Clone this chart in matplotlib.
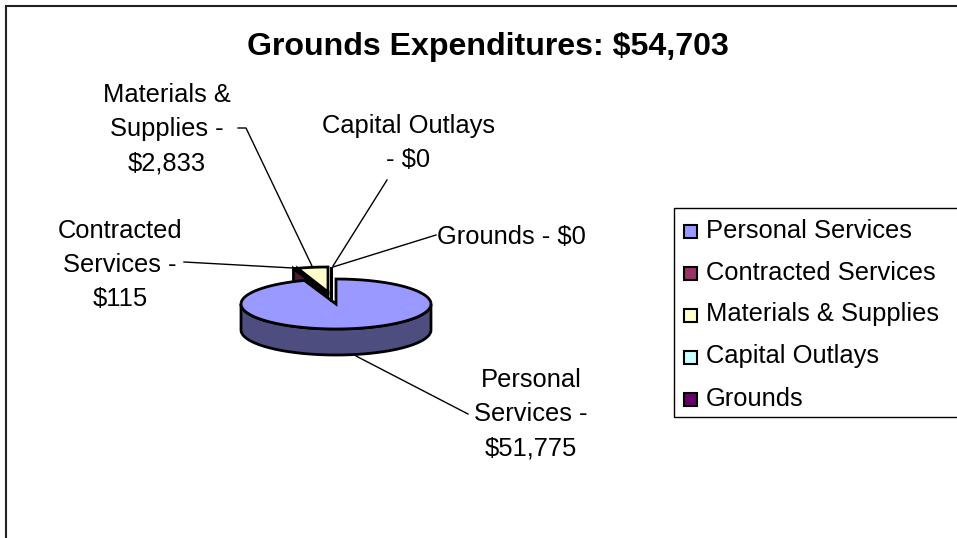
import numpy as np
import matplotlib
matplotlib.use("Agg")
import matplotlib.pyplot as plt
from matplotlib.patches import Polygon, Rectangle

plt.rcParams['font.family'] = ['Liberation Sans', 'DejaVu Sans']

title = "Grounds Expenditures: $54,703"
categories = ["Personal Services", "Contracted Services", "Materials & Supplies", "Capital Outlays", "Grounds"]
values = [51775, 115, 2833, 0, 0]
colors = ["#9999ff", "#993366", "#ffffcc", "#ccffff", "#660066"]
side_colors = ["#4d4d80", "#4d1a33", "#808066", "#668080", "#330033"]
labels = ["Personal\nServices -\n$51,775", "Contracted\nServices -\n$115", "Materials &\nSupplies -\n$2,833",
          "Capital Outlays\n- $0", "Grounds - $0"]

W, H = 957, 538
fig = plt.figure(figsize=(W / 100, H / 100), dpi=100)
ax = fig.add_axes([0, 0, 1, 1])
ax.set_xlim(0, W)
ax.set_ylim(H, 0)
ax.axis("off")

# chart frame
ax.add_patch(Rectangle((6, 5.5), W, H, fc="white", ec="#222222", lw=1.5))
ax.text(488, 47, title, fontsize=23.1, fontweight="bold", ha="center", va="center")

# fake 3d pie
cx, cy, rx, ry, depth = 336, 304, 95, 25, 26
offsets = [(0, 0), (-11, -12), (-8, -12), (-5, -12), (-5, -12)]
side_depth = [depth, 14, 3, 9, 9]


def rim(t0, t1):
    t = np.radians(np.linspace(t0, t1, 120))
    return rx * np.sin(t), -ry * np.cos(t)


angles = np.cumsum([0] + values) / sum(values) * 360
order = [1, 0, 2, 3, 4]
for i in order:
    t0, t1 = angles[i], angles[i + 1]
    ox, oy = offsets[i]
    x, y = rim(t0, t1)
    x = x + cx + ox
    y = y + cy + oy
    apex = [cx + ox, cy + oy]
    z = 3 if i == 0 else 2 if i == 1 else 4
    d = side_depth[i]
    if i == 0:
        # front wall of the big slice
        t = np.radians(np.linspace(t0, t1, 120))
        front = np.cos(t) < 0
        sx, sy = x[front], y[front]
        ax.add_patch(Polygon(np.r_[np.c_[sx, sy], np.c_[sx[::-1], sy[::-1] + d]],
                             fc=side_colors[i], ec="black", lw=2, joinstyle="round", zorder=2))
    else:
        # cut face of the pulled out slices
        ax.add_patch(Polygon([[x[0], y[0]], [x[0], y[0] + d], [apex[0], apex[1] + d], apex],
                             fc=side_colors[i], ec="black", lw=2, zorder=z))
    ax.add_patch(Polygon(np.r_[[apex], np.c_[x, y]], fc=colors[i], ec="black", lw=2,
                         joinstyle="miter", zorder=z))

# leader lines
leaders = [
    [(356, 356), (468, 414)],
    [(184, 262), (293, 268)],
    [(238, 128), (246, 128), (312, 266)],
    [(387, 180), (333, 266)],
    [(436, 235), (333, 267)],
]
for pts in leaders:
    p = np.array(pts)
    ax.plot(p[:, 0], p[:, 1], color="black", lw=1, zorder=1)

# data labels
fs = 18.4
ls = 1.53
ax.text(531, 414, labels[0], fontsize=fs, ha="center", va="center", linespacing=ls)
ax.text(120, 265, labels[1], fontsize=fs, ha="center", va="center", linespacing=ls)
ax.text(167, 129, labels[2], fontsize=fs, ha="center", va="center", linespacing=ls)
ax.text(408, 143, labels[3], fontsize=fs, ha="center", va="center", linespacing=ls)
ax.text(511, 237, labels[4], fontsize=fs, ha="center", va="center")

# legend
ax.add_patch(Rectangle((673.5, 207.5), 290, 209.5, fc="white", ec="black", lw=1, zorder=5))
for i, name in enumerate(categories):
    yy = 229 + i * 42
    ax.add_patch(Rectangle((684, yy - 4.5), 13, 13, fc=colors[i], ec="black", lw=1.5, zorder=6))
    ax.text(706, yy + 1.5, name, fontsize=fs, ha="left", va="center", zorder=6)

fig.savefig("out.png", dpi=100)
